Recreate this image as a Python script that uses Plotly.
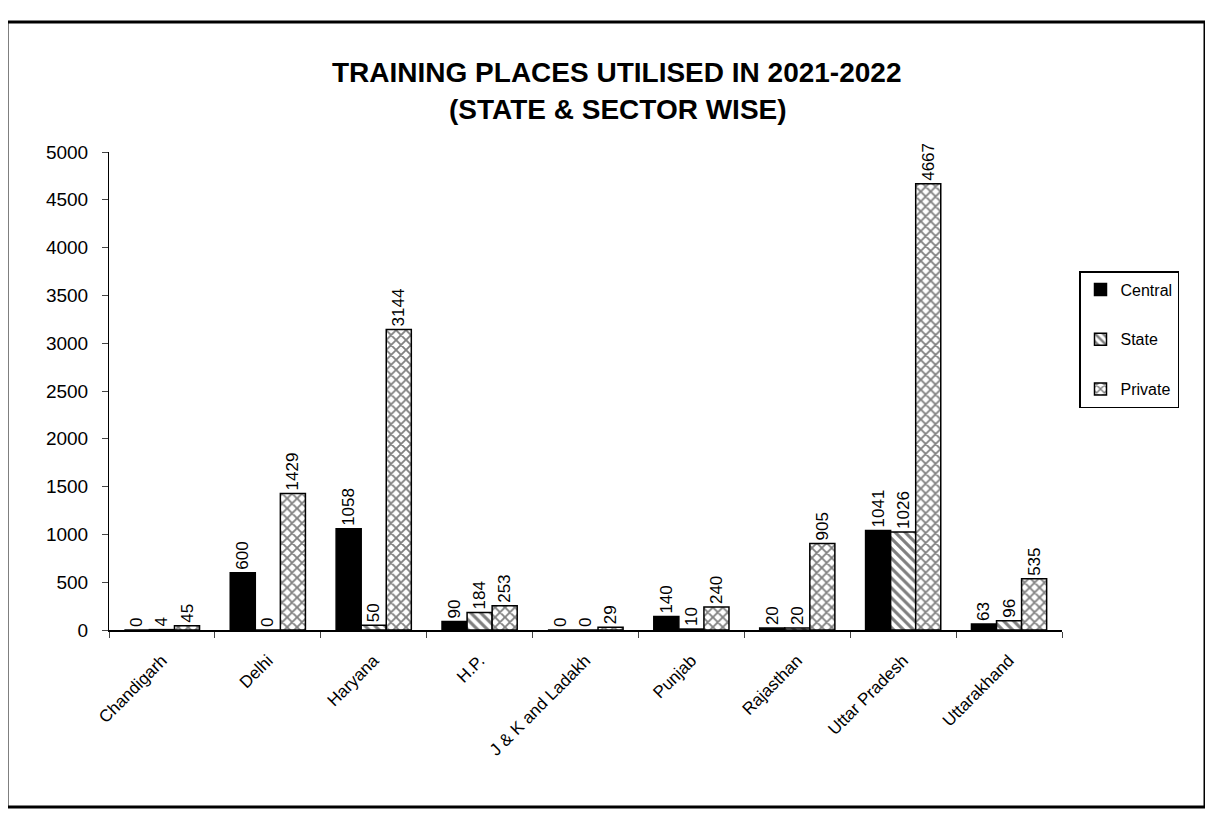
import plotly.graph_objects as go

states = ["Chandigarh", "Delhi", "Haryana", "H.P.", "J & K and Ladakh",
          "Punjab", "Rajasthan", "Uttar Pradesh", "Uttarakhand"]
central = [0, 600, 1058, 90, 0, 140, 20, 1041, 63]
state = [4, 0, 50, 184, 0, 10, 20, 1026, 96]
private = [45, 1429, 3144, 253, 29, 240, 905, 4667, 535]
yticks = [0, 500, 1000, 1500, 2000, 2500, 3000, 3500, 4000, 4500, 5000]

FONT = "Liberation Sans, Arial, sans-serif"

# figure size compensates for the 8px page margin
W, H = 1205, 806
L, R, T, B = 101, 151, 144, 184
PW, PH = W - L - R, H - T - B


def px(x):
    return (x - L) / PW


def py(y):
    return (H - B - y) / PH


def bar(name, vals, shape, group):
    marker = dict(color="black", line=dict(color="black", width=1.5))
    if shape:
        marker["color"] = "white"
        marker["pattern"] = dict(shape=shape, fgcolor="black", bgcolor="white",
                                 size=7, solidity=0.45)
    return go.Bar(
        x=states, y=vals, name=name, legendgroup=group,
        text=[str(v) for v in vals], textposition="outside", textangle=-90,
        cliponaxis=False,
        textfont=dict(family=FONT, size=17, color="black"),
        marker=marker,
    )


fig = go.Figure()
fig.add_trace(bar("Central", central, "", "a"))
fig.add_trace(bar("State", state, "\\", "b"))
fig.add_trace(bar("Private", private, "x", "c"))

fig.update_layout(
    width=W, height=H,
    paper_bgcolor="white", plot_bgcolor="white",
    margin=dict(l=L, r=R, t=T, b=B, autoexpand=False),
    barmode="group", bargap=0.29, bargroupgap=0.0,
    uniformtext=dict(minsize=17, mode="show"),
    font=dict(family=FONT, color="black"),
    legend=dict(x=px(1071), y=py(263), xanchor="left", yanchor="top",
                bordercolor="black", borderwidth=1.5, bgcolor="white",
                font=dict(family=FONT, size=16, color="black"),
                tracegroupgap=26, itemwidth=30),
    showlegend=True,
)
fig.update_yaxes(range=[0, 5000], tickvals=yticks, ticks="outside", ticklen=6,
                 ticklabelstandoff=10,
                 showline=True, linecolor="black", linewidth=1, showgrid=False,
                 zeroline=False, tickfont=dict(family=FONT, size=19, color="black"))
fig.update_xaxes(tickangle=-45, ticks="outside", tickson="boundaries", ticklen=6,
                 ticklabelstandoff=12,
                 showline=True, linecolor="black", linewidth=2, showgrid=False,
                 tickfont=dict(family=FONT, size=17, color="black"))

# title lines
fig.add_annotation(text="<b>TRAINING PLACES UTILISED IN 2021-2022</b>",
                   x=px(608), y=py(64), xref="paper", yref="paper",
                   xanchor="center", yanchor="middle", showarrow=False,
                   font=dict(family=FONT, size=28, color="black"))
fig.add_annotation(text="<b>(STATE & SECTOR WISE)</b>",
                   x=px(610), y=py(101), xref="paper", yref="paper",
                   xanchor="center", yanchor="middle", showarrow=False,
                   font=dict(family=FONT, size=28, color="black"))

# outer frame
fig.add_shape(type="rect", xref="paper", yref="paper",
              x0=px(-1), x1=px(1197), y0=py(799), y1=py(14),
              line=dict(color="black", width=3))

fig.write_html("out.html")
